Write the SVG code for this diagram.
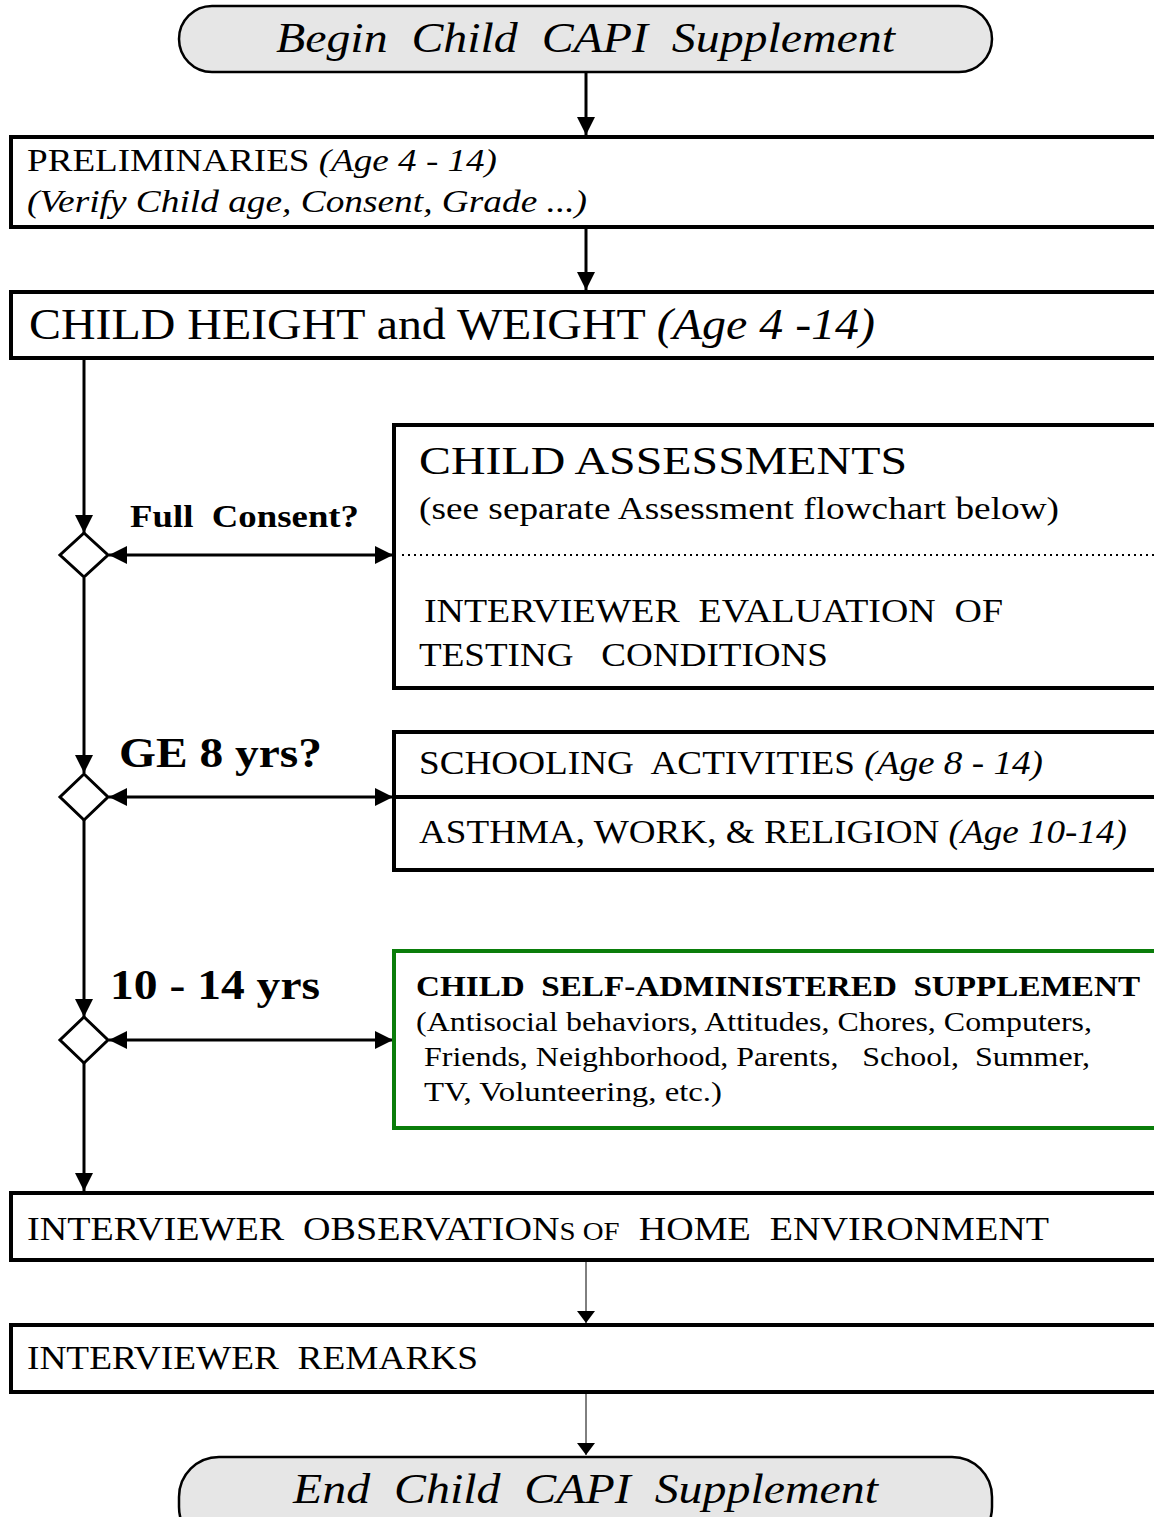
<svg xmlns="http://www.w3.org/2000/svg" width="1154" height="1517" viewBox="0 0 1154 1517">
<style>
text{font-family:"Liberation Serif","Times New Roman",serif;fill:#000;white-space:pre}
.box{fill:#fff;stroke:#000;stroke-width:4}
.term{fill:#e6e6e6;stroke:#000;stroke-width:2.5}
.dia{fill:#fff;stroke:#000;stroke-width:3}
.ln{stroke:#000;stroke-width:3;fill:none}
.thin{stroke:#000;stroke-width:1;fill:none}
.i{font-style:italic}
.b{font-weight:bold}
</style>
<defs>
<marker id="ah" viewBox="0 0 10 10" refX="10" refY="5" markerWidth="6" markerHeight="6" orient="auto" markerUnits="strokeWidth"><path d="M0,0 L10,5 L0,10 z" fill="#000"/></marker>
<marker id="ahs" viewBox="0 0 10 10" refX="0" refY="5" markerWidth="6" markerHeight="6" orient="auto" markerUnits="strokeWidth"><path d="M10,0 L0,5 L10,10 z" fill="#000"/></marker>
<marker id="aht" viewBox="0 0 10 10" refX="10" refY="5" markerWidth="12" markerHeight="18" orient="auto" markerUnits="userSpaceOnUse" preserveAspectRatio="none"><path d="M0,0 L10,5 L0,10 z" fill="#000"/></marker>
</defs>
<g id="connectors">
<line class="ln" x1="586" y1="73" x2="586" y2="135" marker-end="url(#ah)"/>
<line class="ln" x1="586" y1="228" x2="586" y2="290" marker-end="url(#ah)"/>
<line class="ln" x1="84" y1="360" x2="84" y2="533" marker-end="url(#ah)"/>
<line class="ln" x1="109" y1="555" x2="393" y2="555" marker-start="url(#ahs)" marker-end="url(#ah)"/>
<line class="ln" x1="84" y1="578" x2="84" y2="773" marker-end="url(#ah)"/>
<line class="ln" x1="109" y1="797" x2="393" y2="797" marker-start="url(#ahs)" marker-end="url(#ah)"/>
<line class="ln" x1="84" y1="820" x2="84" y2="1017" marker-end="url(#ah)"/>
<line class="ln" x1="109" y1="1040" x2="393" y2="1040" marker-start="url(#ahs)" marker-end="url(#ah)"/>
<line class="ln" x1="84" y1="1063" x2="84" y2="1191" marker-end="url(#ah)"/>
<line class="thin" x1="586" y1="1262" x2="586" y2="1323" marker-end="url(#aht)"/>
<line class="thin" x1="586" y1="1394" x2="586" y2="1455" marker-end="url(#aht)"/>
</g>
<g id="begin">
<rect class="term" x="179" y="6" width="813" height="66" rx="33"/>
<text x="585.5" y="52" font-size="42" class="i" text-anchor="middle" textLength="619" lengthAdjust="spacingAndGlyphs">Begin  Child  CAPI  Supplement</text>
</g>
<g id="preliminaries">
<rect class="box" x="11" y="137" width="1160" height="90"/>
<text x="27" y="171" font-size="31" textLength="470" lengthAdjust="spacingAndGlyphs">PRELIMINARIES <tspan class="i">(Age 4 - 14)</tspan></text>
<text x="27" y="212" font-size="31" class="i" textLength="560" lengthAdjust="spacingAndGlyphs">(Verify Child age, Consent, Grade ...)</text>
</g>
<g id="height-weight">
<rect class="box" x="11" y="292" width="1160" height="66"/>
<text x="29" y="339" font-size="45" textLength="846" lengthAdjust="spacingAndGlyphs">CHILD HEIGHT and WEIGHT <tspan class="i">(Age 4 -14)</tspan></text>
</g>
<g id="decision-consent">
<path class="dia" d="M84,533 L108,555 L84,577 L60,555 Z"/>
<text x="130" y="527" font-size="31" class="b" textLength="229" lengthAdjust="spacingAndGlyphs">Full  Consent?</text>
</g>
<g id="assessments">
<rect class="box" x="394" y="425" width="780" height="263"/>
<text x="419" y="474" font-size="40" textLength="488" lengthAdjust="spacingAndGlyphs">CHILD ASSESSMENTS</text>
<text x="419" y="519" font-size="32" textLength="640" lengthAdjust="spacingAndGlyphs">(see separate Assessment flowchart below)</text>
<line x1="402" y1="555" x2="1154" y2="555" stroke="#000" stroke-width="2" stroke-dasharray="2 4"/>
<text x="424" y="622" font-size="33" textLength="579" lengthAdjust="spacingAndGlyphs">INTERVIEWER  EVALUATION  OF</text>
<text x="419" y="666" font-size="33" textLength="409" lengthAdjust="spacingAndGlyphs">TESTING   CONDITIONS</text>
</g>
<g id="decision-ge8">
<path class="dia" d="M84,774 L108,797 L84,820 L60,797 Z"/>
<text x="119" y="767" font-size="42" class="b" textLength="203" lengthAdjust="spacingAndGlyphs">GE 8 yrs?</text>
</g>
<g id="schooling">
<rect class="box" x="394" y="732" width="780" height="138"/>
<line x1="394" y1="797" x2="1154" y2="797" stroke="#000" stroke-width="4"/>
<text x="419" y="774" font-size="33" textLength="624" lengthAdjust="spacingAndGlyphs">SCHOOLING  ACTIVITIES <tspan class="i">(Age 8 - 14)</tspan></text>
<text x="419" y="843" font-size="33" textLength="708" lengthAdjust="spacingAndGlyphs">ASTHMA, WORK, &amp; RELIGION <tspan class="i">(Age 10-14)</tspan></text>
</g>
<g id="decision-10-14">
<path class="dia" d="M84,1017 L108,1040 L84,1063 L60,1040 Z"/>
<text x="110" y="999" font-size="42" class="b" textLength="210" lengthAdjust="spacingAndGlyphs">10 - 14 yrs</text>
</g>
<g id="self-admin">
<rect x="394" y="951" width="780" height="177" fill="#fff" stroke="#0a7d0a" stroke-width="4"/>
<text x="416" y="996" font-size="30" class="b" textLength="724" lengthAdjust="spacingAndGlyphs">CHILD  SELF-ADMINISTERED  SUPPLEMENT</text>
<text x="416" y="1031" font-size="28" textLength="676" lengthAdjust="spacingAndGlyphs">(Antisocial behaviors, Attitudes, Chores, Computers,</text>
<text x="424" y="1066" font-size="28" textLength="666" lengthAdjust="spacingAndGlyphs">Friends, Neighborhood, Parents,   School,  Summer,</text>
<text x="424" y="1101" font-size="28" textLength="298" lengthAdjust="spacingAndGlyphs">TV, Volunteering, etc.)</text>
</g>
<g id="observations">
<rect class="box" x="11" y="1193" width="1160" height="67"/>
<text x="27" y="1240" font-size="33" textLength="1022" lengthAdjust="spacingAndGlyphs">INTERVIEWER  OBSERVATION<tspan font-size="25">S OF</tspan>  HOME  ENVIRONMENT</text>
</g>
<g id="remarks">
<rect class="box" x="11" y="1325" width="1160" height="67"/>
<text x="27" y="1369" font-size="33" textLength="451" lengthAdjust="spacingAndGlyphs">INTERVIEWER  REMARKS</text>
</g>
<g id="end">
<rect class="term" x="179" y="1457" width="813" height="90" rx="40"/>
<text x="585.5" y="1503" font-size="42" class="i" text-anchor="middle" textLength="585" lengthAdjust="spacingAndGlyphs">End  Child  CAPI  Supplement</text>
</g>
</svg>
